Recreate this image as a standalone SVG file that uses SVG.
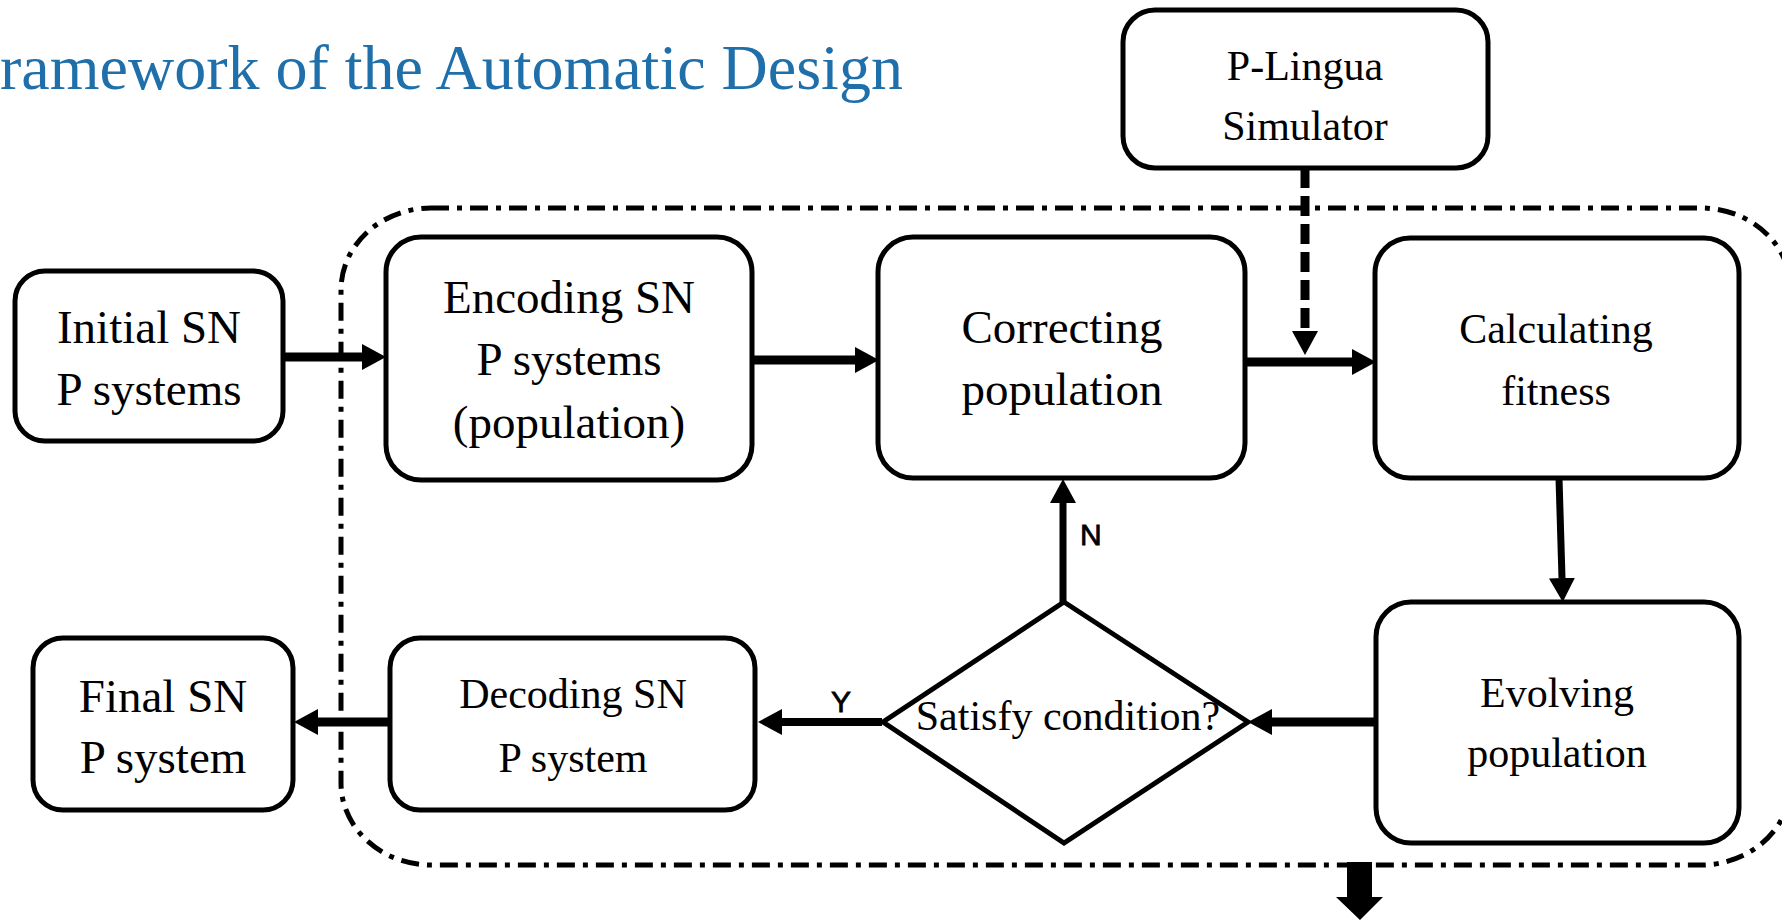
<svg xmlns="http://www.w3.org/2000/svg" width="1782" height="921" viewBox="0 0 1782 921">
<style>
.box{fill:#fff;stroke:#000;stroke-width:5}
.t{font-family:"Liberation Serif","Times New Roman",serif;fill:#000;text-anchor:middle}
.big{font-size:47px}
.sm{font-size:42px}
.lab{font-family:"Liberation Sans",Arial,sans-serif;font-size:30px;fill:#000;stroke:#000;stroke-width:0.8}
.c{fill:none;stroke:#000}
</style>
<defs>
<marker id="ah" markerUnits="userSpaceOnUse" viewBox="0 0 24 26" refX="0" refY="13" markerWidth="24" markerHeight="26" orient="auto">
<path d="M0,0 L24,13 L0,26 z" fill="#000"/>
</marker>
</defs>
<rect width="1782" height="921" fill="#fff"/>
<text x="0" y="89" style="font-family:'Liberation Serif','Times New Roman',serif;font-size:64px;fill:#1f6fab">ramework of the Automatic Design</text>

<rect id="boundary" x="341" y="208" width="1450" height="657" rx="90" ry="82" fill="none" stroke="#000" stroke-width="5" stroke-dasharray="18 8 5 8"/>

<g id="connectors">
<line class="c" x1="283" y1="357" x2="362" y2="357" stroke-width="9" marker-end="url(#ah)"/>
<line class="c" x1="752" y1="360" x2="855" y2="360" stroke-width="9" marker-end="url(#ah)"/>
<line class="c" x1="1245" y1="362" x2="1352" y2="362" stroke-width="9" marker-end="url(#ah)"/>
<line class="c" x1="1305" y1="168" x2="1305" y2="331" stroke-width="9" stroke-dasharray="20 8" marker-end="url(#ah)"/>
<line class="c" x1="1559" y1="478" x2="1562" y2="578" stroke-width="7" marker-end="url(#ah)"/>
<line class="c" x1="1376" y1="722" x2="1272" y2="722" stroke-width="9" marker-end="url(#ah)"/>
<line class="c" x1="882" y1="722" x2="782" y2="722" stroke-width="8" marker-end="url(#ah)"/>
<line class="c" x1="390" y1="722" x2="318" y2="722" stroke-width="9" marker-end="url(#ah)"/>
<line class="c" x1="1063" y1="602" x2="1063" y2="503" stroke-width="7" marker-end="url(#ah)"/>
<polygon points="1347,862 1372,862 1372,897 1383,897 1360,920 1336,897 1347,897" fill="#000"/>
<text class="lab" x="1080" y="545">N</text>
<text class="lab" x="841" y="712" text-anchor="middle">Y</text>
</g>

<g id="initial">
<rect class="box" x="15" y="271" width="268" height="170" rx="30"/>
<text class="t big" x="149" y="343">Initial SN</text>
<text class="t big" x="149" y="405">P systems</text>
</g>
<g id="encoding">
<rect class="box" x="386" y="237" width="366" height="243" rx="35"/>
<text class="t big" x="569" y="313">Encoding SN</text>
<text class="t big" x="569" y="375">P systems</text>
<text class="t big" x="569" y="438">(population)</text>
</g>
<g id="correcting">
<rect class="box" x="878" y="237" width="367" height="241" rx="35"/>
<text class="t big" x="1062" y="343">Correcting</text>
<text class="t big" x="1062" y="405">population</text>
</g>
<g id="plingua">
<rect class="box" x="1123" y="10" width="365" height="158" rx="32"/>
<text class="t sm" x="1305" y="80">P-Lingua</text>
<text class="t sm" x="1305" y="140">Simulator</text>
</g>
<g id="calculating">
<rect class="box" x="1375" y="238" width="364" height="240" rx="35"/>
<text class="t sm" x="1556" y="343">Calculating</text>
<text class="t sm" x="1556" y="405">fitness</text>
</g>
<g id="evolving">
<rect class="box" x="1376" y="602" width="363" height="241" rx="35"/>
<text class="t sm" x="1557" y="707">Evolving</text>
<text class="t sm" x="1557" y="767">population</text>
</g>
<g id="condition">
<polygon class="box" points="1064,602 1248,722 1064,843 883,722"/>
<text class="t sm" x="1068" y="730">Satisfy condition?</text>
</g>
<g id="decoding">
<rect class="box" x="390" y="638" width="365" height="172" rx="30"/>
<text class="t sm" x="573" y="708">Decoding SN</text>
<text class="t sm" x="573" y="772">P system</text>
</g>
<g id="final">
<rect class="box" x="33" y="638" width="260" height="172" rx="30"/>
<text class="t big" x="163" y="712">Final SN</text>
<text class="t big" x="163" y="773">P system</text>
</g>
</svg>
